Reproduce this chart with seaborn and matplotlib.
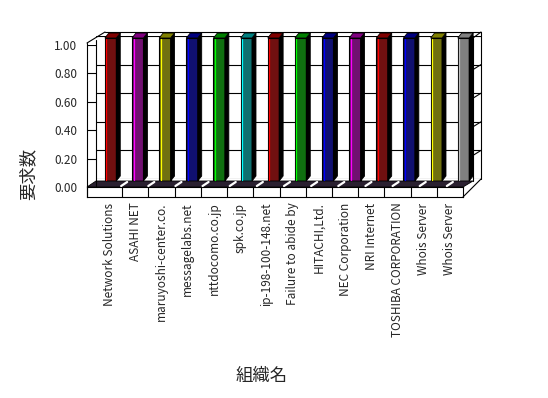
import pandas as pd
import numpy as np
import seaborn as sns
import matplotlib.pyplot as plt
from matplotlib.lines import Line2D
from matplotlib.patches import Polygon
from matplotlib.transforms import IdentityTransform

# Data: one request per organisation
orgs = [
    "Network Solutions",
    "ASAHI NET",
    "maruyoshi-center.co.",
    "messagelabs.net",
    "nttdocomo.co.jp",
    "spk.co.jp",
    "ip-198-100-148.net",
    "Failure to abide by",
    "HITACHI,Ltd.",
    "NEC Corporation",
    "NRI Internet",
    "TOSHIBA CORPORATION",
    "Whois Server",
    "Whois Server",
]
counts = [1.0, 1.0, 1.0, 1.0, 1.0, 1.0, 1.0, 1.0, 1.0, 1.0, 1.0, 1.0, 1.0, 1.0]
bar_colors = [
    "#800000", "#800080", "#808000", "#000080", "#008000", "#008080", "#800000",
    "#008000", "#000080", "#800080", "#800000", "#000080", "#808000", "#808080",
]
y_ticks = [0.0, 0.2, 0.4, 0.6, 0.8, 1.0]

# lighter edge colour used for the bevel on each bar
highlight = {
    "#800000": "#ff0000", "#800080": "#ff00ff", "#808000": "#ffff00",
    "#000080": "#0000ff", "#008000": "#00ff00", "#008080": "#00ffff",
    "#808080": "#c0c0c0",
}

sns.set_theme(style="white")
plt.rcParams["font.family"] = ["Noto Sans CJK JP", "DejaVu Sans"]

W, H = 548, 398
fig = plt.figure(figsize=(W / 100, H / 100), dpi=100)
fig.patch.set_facecolor("white")


def box(x0, y0, x1, y1):
    # pixel box (y from top) -> figure fraction rect
    return [x0 / W, 1 - y1 / H, (x1 - x0) / W, (y1 - y0) / H]


def line(x0, y0, x1, y1, color="black", lw=0.8):
    fig.add_artist(Line2D([x0 / W, x1 / W], [1 - y0 / H, 1 - y1 / H],
                          transform=fig.transFigure, color=color, lw=lw))


df = pd.DataFrame({"org": orgs, "count": counts, "color": bar_colors})
df["slot"] = [f"c{i}" for i in range(len(df))]

# back wall with gridlines
ax_back = fig.add_axes(box(96, 36, 481, 179))
ax_back.set_ylim(0, 1)
ax_back.set_xlim(0, 1)
ax_back.set_yticks(y_ticks)
ax_back.set_xticks([])
ax_back.tick_params(left=False, labelleft=False)
ax_back.grid(axis="y", color="black", lw=0.8)
for s in ax_back.spines.values():
    s.set_visible(False)
ax_back.set_facecolor("white")

# left side wall carrying the value axis
ax_side = fig.add_axes(box(87, 44.7, 96, 187))
ax_side.set_ylim(0, 1)
ax_side.set_xlim(0, 1)
ax_side.set_yticks(y_ticks)
ax_side.set_yticklabels([f"{v:.2f}" for v in y_ticks], fontsize=8.5)
ax_side.set_xticks([])
ax_side.tick_params(axis="y", length=0, pad=7)
ax_side.grid(axis="y", color="black", lw=0.8)
for s in ax_side.spines.values():
    s.set_visible(False)
ax_side.set_facecolor("white")

# floor front edge with the category labels
ax_floor = fig.add_axes(box(87, 187, 463, 197))
n = len(orgs)
ax_floor.set_xlim(-0.5 - 9 / 26.2, n - 0.5)
ax_floor.set_ylim(0, 1)
ax_floor.set_xticks(range(n))
ax_floor.set_xticklabels(orgs, rotation=90, fontsize=8.5, va="top")
ax_floor.tick_params(axis="x", length=0, pad=4)
ax_floor.set_yticks([])
ax_floor.vlines([i + 0.5 for i in range(n - 1)], 0, 1, color="black", lw=0.8)
for s in ax_floor.spines.values():
    s.set_color("black")
    s.set_linewidth(0.8)
ax_floor.set_facecolor("white")

# floor strip between the bars and the front edge
fig.add_artist(Polygon([(96 / W, 1 - 181 / H), (473 / W, 1 - 181 / H),
                        (463 / W, 1 - 187 / H), (87 / W, 1 - 187 / H)],
                       closed=True, transform=fig.transFigure,
                       facecolor="#2a2030", edgecolor="black", lw=0.6))

# bars
ax_bar = fig.add_axes(box(97, 38, 477, 181))
ax_bar.patch.set_alpha(0)
sns.barplot(data=df, x="slot", y="count", hue="slot",
            palette=dict(zip(df["slot"], df["color"])), legend=False,
            width=0.42, edgecolor="black", linewidth=0.8, ax=ax_bar)
ax_bar.set_ylim(0, 1)
ax_bar.set_xlim(-0.5, n - 0.5)
ax_bar.axis("off")

for i in range(n):
    k = i + 1
    slot_px = ax_bar.transData.transform([(i + 0.5, 0)])[0]
    fig.add_artist(Line2D([slot_px[0] - 3, slot_px[0] + 3],
                          [slot_px[1] - 5, slot_px[1] - 1],
                          transform=IdentityTransform(), color="white", lw=1.6))

dx, dy = 4, 5
for p, col in zip(ax_bar.patches, bar_colors):
    x0, w, h = p.get_x(), p.get_width(), p.get_height()
    if h <= 0:
        continue
    (xl, yb), (xr, yt) = ax_bar.transData.transform([(x0, 0), (x0 + w, h)])
    side = Polygon([(xr, yb), (xr, yt), (xr + dx, yt + dy), (xr + dx, yb + dy)],
                   closed=True, transform=IdentityTransform(),
                   facecolor="black", edgecolor="black", lw=0.6)
    top = Polygon([(xl, yt), (xr, yt), (xr + dx, yt + dy), (xl + dx, yt + dy)],
                  closed=True, transform=IdentityTransform(),
                  facecolor=col, edgecolor="black", lw=0.6)
    fig.add_artist(side)
    fig.add_artist(top)
    fig.add_artist(Line2D([xl + 1.5, xl + 1.5], [yb + 1, yt - 1],
                          transform=IdentityTransform(),
                          color=highlight[col], lw=0.9))

# outer frame of the 3D box
line(87, 43, 87, 197)
line(96, 40, 96, 187)
line(87, 43, 105, 32)
line(105, 32, 481, 32)
line(481, 32, 481, 179)
line(473, 38, 473, 181)
line(473, 38, 481, 32)
line(463, 197, 481, 179)
for v in y_ticks[1:-1]:
    yb = 179 - 143 * v
    line(473, yb + 5, 481, yb)

fig.text(28 / W, 1 - 174 / H, "要求数", rotation=90, fontsize=12.5,
         ha="center", va="center")
fig.text(262 / W, 1 - 376 / H, "組織名", fontsize=12.5, ha="center", va="center")

fig.savefig("out.png", dpi=100, facecolor="white")
